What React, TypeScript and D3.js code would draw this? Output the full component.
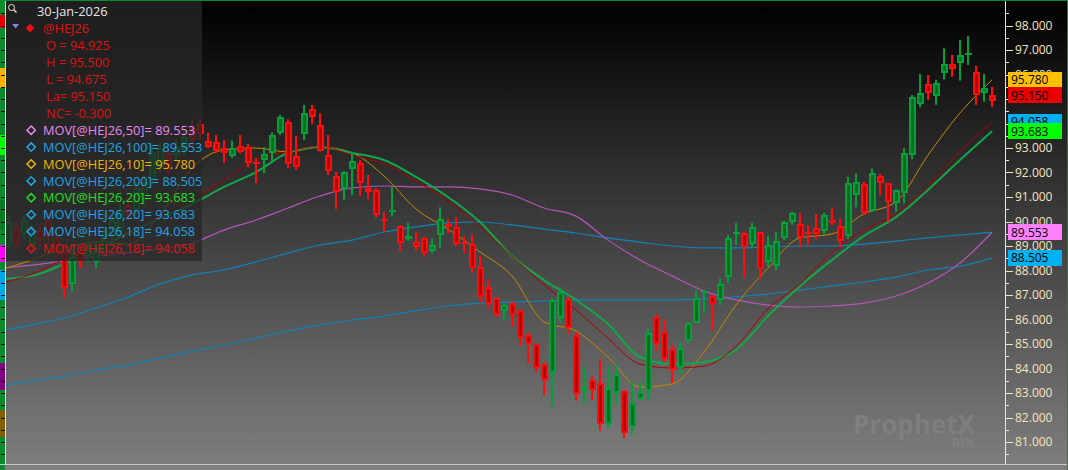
import React from "react";
import * as d3 from "d3";

const W = 1068;
const H = 470;

// ---- price data (bars 1..124) ----
const opens = [
  89.04, 89.73, 89.49, 89.0, 89.65, 90.06, 89.33, 88.76, 87.45, 88.76,
  88.59, 88.35, 88.76, 89.41, 89.57, 90.67, 90.47, 90.88, 91.69, 92.22,
  92.8, 92.71, 92.92, 93.82, 93.98, 93.3, 93.26, 92.99, 92.67, 93.08,
  93.03, 92.41, 92.51, 92.78, 93.6, 94.07, 92.67, 93.56, 94.58, 93.94,
  92.71, 91.86, 91.31, 92.13, 92.4, 91.36, 91.29, 90.11, 90.37, 89.82,
  89.27, 89.15, 89.31, 88.81, 89.45, 89.88, 89.76, 89.15, 89.08, 88.15,
  87.34, 86.87, 86.36, 86.69, 86.39, 85.37, 85.0, 84.2, 83.82, 86.05,
  86.82, 85.37, 83.09, 83.53, 83.42, 81.73, 83.01, 83.09, 81.62, 82.74,
  83.09, 86.09, 85.5, 84.78, 84.01, 85.13, 85.87, 87.09, 86.96, 86.8,
  87.75, 89.49, 89.55, 89.08, 89.57, 88.36, 88.18, 89.31, 89.99, 89.9,
  89.59, 89.72, 89.63, 90.06, 89.82, 89.41, 91.08, 91.53, 90.44, 91.86,
  91.56, 90.74, 91.18, 92.71, 94.8, 95.61, 95.12, 96.05, 96.43, 96.46,
  96.83, 96.11, 95.25, 94.925,
];
const highs = [
  90.22, 89.98, 90.31, 89.86, 89.9, 90.39, 89.57, 89.08, 88.92, 89.0,
  89.33, 89.24, 89.82, 90.31, 90.67, 90.96, 91.61, 91.86, 93.08, 93.25,
  93.0, 93.33, 93.73, 94.14, 94.22, 93.62, 93.53, 93.33, 93.3, 93.53,
  93.16, 92.58, 93.03, 93.64, 94.35, 94.17, 93.49, 94.76, 94.76, 94.42,
  93.53, 92.03, 92.06, 92.85, 92.51, 91.9, 91.36, 90.4, 91.42, 89.86,
  89.95, 89.58, 89.38, 89.31, 90.58, 90.09, 90.17, 89.41, 89.49, 88.59,
  87.64, 86.91, 86.66, 86.73, 86.42, 85.44, 85.03, 84.24, 86.87, 87.31,
  86.91, 85.5, 84.1, 83.69, 84.38, 84.1, 84.18, 83.15, 83.46, 83.46,
  85.64, 86.22, 86.01, 84.96, 85.09, 85.91, 87.2, 87.2, 87.0, 87.68,
  89.45, 89.95, 89.58, 89.95, 89.58, 89.41, 89.58, 90.03, 90.4, 90.33,
  89.86, 90.31, 90.36, 90.58, 90.13, 91.83, 91.97, 91.62, 92.17, 91.94,
  91.58, 91.31, 92.99, 95.16, 96.02, 95.98, 95.78, 97.07, 96.8, 97.41,
  97.57, 96.35, 96.02, 95.5,
];
const lows = [
  88.84, 88.92, 89.24, 88.76, 89.0, 89.08, 88.51, 86.88, 87.12, 88.1,
  88.35, 88.1, 88.51, 89.24, 89.41, 89.98, 90.31, 90.67, 91.53, 92.02,
  91.9, 92.51, 92.71, 93.12, 93.33, 92.99, 92.8, 92.4, 92.6, 92.78,
  92.21, 91.56, 91.97, 92.4, 93.53, 92.17, 92.1, 93.33, 93.97, 92.85,
  91.9, 90.5, 90.88, 91.08, 91.04, 90.91, 90.17, 89.58, 90.2, 88.81,
  89.22, 88.82, 88.56, 88.7, 88.93, 89.52, 88.97, 88.7, 87.91, 86.69,
  86.42, 86.11, 85.95, 85.73, 84.92, 84.21, 83.83, 82.92, 82.44, 85.87,
  85.41, 82.7, 82.58, 82.71, 81.46, 81.56, 82.51, 81.15, 81.33, 82.71,
  82.71, 84.73, 84.24, 83.4, 83.74, 85.05, 85.85, 86.28, 85.54, 86.59,
  87.5, 89.04, 87.72, 88.91, 87.68, 88.15, 88.02, 89.24, 89.86, 88.95,
  89.04, 89.27, 89.49, 89.86, 88.95, 89.27, 90.58, 90.27, 90.4, 91.08,
  89.99, 90.4, 90.74, 92.54, 94.66, 94.96, 94.76, 95.8, 95.91, 95.75,
  96.39, 94.76, 94.89, 94.675,
];
const closes = [
  89.98, 89.12, 90.06, 89.57, 89.24, 89.37, 88.76, 87.29, 88.59, 88.35,
  89.08, 88.84, 89.57, 90.06, 90.47, 90.27, 91.37, 91.61, 92.84, 93.0,
  92.1, 93.04, 93.45, 93.33, 93.57, 93.03, 92.89, 92.78, 92.99, 92.85,
  92.4, 92.35, 92.76, 93.53, 94.28, 92.35, 92.24, 94.44, 94.28, 92.89,
  92.07, 91.22, 92.03, 92.47, 91.56, 91.22, 90.27, 90.05, 90.46, 89.14,
  89.41, 88.96, 88.73, 89.03, 90.09, 89.78, 89.08, 89.08, 88.09, 86.93,
  86.63, 86.18, 86.59, 86.18, 85.23, 85.0, 84.01, 83.53, 86.8, 87.13,
  85.64, 82.96, 83.23, 83.12, 81.73, 83.19, 83.78, 81.38, 82.6, 83.05,
  85.44, 85.0, 84.38, 83.94, 84.83, 85.87, 86.87, 87.17, 86.63, 87.45,
  89.31, 89.58, 88.97, 89.76, 88.05, 89.04, 89.22, 89.97, 90.33, 89.31,
  89.51, 89.49, 90.27, 89.95, 89.2, 91.56, 91.62, 90.33, 91.99, 91.56,
  90.81, 91.29, 92.78, 95.09, 95.26, 95.23, 95.64, 96.43, 96.21, 96.8,
  96.87, 95.16, 95.45, 95.15,
];
const barDirections = (
  "GRGGRRRRGR" + "GGGGGRGGGG" + "RGGRRRRRGR" + "RRGGGRRGRR" + "RRGGRRRRGR" +
  "GRRGGRRRRR" + "RRGRRRRRGG" + "RRGRRGGRGG" + "GRRRGGGGRG" + "GGRGRGGGGR" +
  "RRGRRGGRGR" + "RGGGGRGGRG" + "GRGR"
).split("");

// ---- moving averages, sampled every 4 bars ----
const maIndex = [
  0, 4, 8, 12, 16, 20, 24, 28, 32, 36, 40, 44, 48, 52, 56, 60,
  64, 68, 72, 76, 80, 84, 88, 92, 96, 100, 104, 108, 112, 116, 120, 124,
];
const ma10 = [
  88.02, 88.43, 88.92, 89.16, 89.08, 90.27, 92.18, 92.92, 93.0, 92.84, 93.04, 92.8, 91.86, 90.51, 89.69, 88.76,
  87.78, 85.9, 85.53, 84.47, 83.24, 83.37, 84.67, 86.59, 88.1, 89.33, 89.49, 90.31, 90.8, 92.71, 94.43, 95.78,
];
const ma20 = [
  87.65, 87.78, 88.27, 88.84, 89.53, 90.14, 90.71, 91.41, 92.02, 92.8, 93.04, 92.8, 92.51, 91.82, 91.0, 89.98,
  88.59, 87.61, 86.8, 85.82, 84.47, 84.18, 84.27, 84.76, 86.14, 87.37, 88.43, 89.41, 90.18, 91.29, 92.51, 93.683,
];
const ma18 = [
  87.45, 87.86, 88.47, 89.0, 89.61, 90.22, 90.88, 91.69, 92.55, 92.84, 93.08, 92.71, 92.35, 91.65, 90.84, 89.78,
  88.59, 87.41, 86.39, 85.24, 84.18, 84.02, 84.1, 84.9, 86.45, 87.45, 88.76, 89.65, 90.31, 91.45, 92.84, 94.058,
];
const ma50 = [
  88.1, 88.22, 88.39, 88.59, 88.71, 88.88, 89.12, 89.65, 90.06, 90.55, 91.04, 91.37, 91.45, 91.41, 91.41, 91.33,
  91.08, 90.55, 90.22, 89.24, 88.43, 87.78, 87.16, 86.8, 86.59, 86.51, 86.55, 86.67, 86.96, 87.49, 88.31, 89.553,
];
const ma100 = [
  85.53, 85.78, 86.06, 86.47, 86.92, 87.45, 87.82, 88.02, 88.35, 88.71, 89.04, 89.24, 89.57, 89.78, 89.94, 89.98,
  89.86, 89.69, 89.53, 89.33, 89.16, 89.0, 88.92, 88.92, 88.96, 89.0, 89.0, 89.08, 89.2, 89.33, 89.45, 89.553,
];
const ma200 = [
  83.29, 83.49, 83.69, 83.94, 84.14, 84.43, 84.71, 84.96, 85.24, 85.53, 85.78, 85.98, 86.14, 86.35, 86.55, 86.67,
  86.71, 86.76, 86.8, 86.8, 86.8, 86.8, 86.84, 86.92, 87.04, 87.2, 87.37, 87.53, 87.73, 88.02, 88.18, 88.505,
];

// ---- axis / legend text ----
const axisTicks = [81, 82, 83, 84, 85, 86, 87, 88, 89, 90, 91, 92, 93, 94, 95, 96, 97, 98];
const minorTicks = [80.5, 81.5, 82.5, 83.5, 84.5, 85.5, 86.5, 87.5, 88.5, 89.5, 90.5, 91.5, 92.5, 93.5, 94.5, 95.5, 96.5, 97.5, 98.5];
const lastValues = [95.78, 95.15, 94.058, 93.683, 89.553, 88.505];
const lastValueColors = ["#ffc000", "#e80000", "#00b0f0", "#00ff00", "#ff80ff", "#00b0f0"];
const headerDate = "30-Jan-2026";
const symbol = "@HEJ26";
const quoteLines = ["O = 94.925", "H = 95.500", "L = 94.675", "La= 95.150", "NC= -0.300"];
const studyLabels = [
  "MOV[@HEJ26,50]= 89.553",
  "MOV[@HEJ26,100]= 89.553",
  "MOV[@HEJ26,10]= 95.780",
  "MOV[@HEJ26,200]= 88.505",
  "MOV[@HEJ26,20]= 93.683",
  "MOV[@HEJ26,20]= 93.683",
  "MOV[@HEJ26,18]= 94.058",
  "MOV[@HEJ26,18]= 94.058",
];
const studyColors = ["#e888f0", "#1ea4e6", "#f2b400", "#1ea4e6", "#22e022", "#1ea4e6", "#1ea4e6", "#e01414"];
const leftStripBlocks = [
  { y0: 15, y1: 28, c: "#e00000" },
  { y0: 68, y1: 88, c: "#ffb000" },
  { y0: 135, y1: 155, c: "#00ff00" },
  { y0: 200, y1: 230, c: "#0b7a25" },
  { y0: 245, y1: 262, c: "#ff00ff" },
  { y0: 270, y1: 300, c: "#00a8e8" },
  { y0: 363, y1: 390, c: "#800080" },
  { y0: 410, y1: 437, c: "#806000" },
];

const FONT = "'Open Sans', 'Noto Sans', sans-serif";

export default function App() {
  const y = d3.scaleLinear().domain([81, 98]).range([442, 25.5]);
  const x = d3.scaleLinear().domain([0, 124]).range([0, 992]);

  const mkLine = (vals: number[]) =>
    d3
      .line<number>()
      .x((_, i) => x(maIndex[i]))
      .y((v) => y(v))
      .curve(d3.curveMonotoneX)(vals) || "";

  const candles = opens.map((o, i) => {
    const c = closes[i];
    const h = highs[i];
    const l = lows[i];
    const cx = Math.round(x(i + 1));
    const up = barDirections[i] === "G";
    const outer = up ? "#00a03a" : "#ff0d0d";
    const inner = up ? "#006c22" : "#b00000";
    let bt = Math.round(y(Math.max(o, c)));
    let bb = Math.round(y(Math.min(o, c)));
    if (bb - bt < 2) {
      const m = (bt + bb) / 2;
      bt = Math.round(m - 1);
      bb = bt + 2;
    }
    return (
      <g key={i}>
        <rect x={cx - 1} y={y(h)} width={2} height={y(l) - y(h)} fill={outer} />
        <rect x={cx - 3} y={bt} width={7} height={bb - bt} fill={outer} />
        {bb - bt > 4 && <rect x={cx - 1} y={bt + 2} width={3} height={bb - bt - 4} fill={inner} />}
      </g>
    );
  });

  const rowY = (k: number) => 45.7 + k * 16.9;

  return (
    <svg
      width={W}
      height={H}
      style={{ position: "absolute", left: 0, top: 0, display: "block" }}
      xmlns="http://www.w3.org/2000/svg"
    >
      <defs>
        <linearGradient id="bg" x1="0" y1="0" x2="0" y2="1">
          <stop offset="0" stopColor="#000000" />
          <stop offset="1" stopColor="#7f7f7f" />
        </linearGradient>
        <clipPath id="plot">
          <rect x={6} y={0} width={999} height={463} />
        </clipPath>
      </defs>
      <rect x={0} y={0} width={W} height={H} fill="url(#bg)" />

      {/* watermark */}
      <g>
        <text x={853} y={434} fontFamily={FONT} fontWeight={700} fontSize={26} fill="#7f7f7f">
          ProphetX
        </text>
        <text x={908} y={445} fontFamily={FONT} fontSize={8} fill="#7a7a7a">
          powered by
        </text>
        <text x={952} y={446} fontFamily={FONT} fontWeight={700} fontSize={10} fill="#828282">
          DTN
        </text>
      </g>

      <g clipPath="url(#plot)">
        <path d={mkLine(ma200)} fill="none" stroke="#0f82bd" strokeWidth={1.2} />
        <path d={mkLine(ma100)} fill="none" stroke="#0f82bd" strokeWidth={1.2} />
        <path d={mkLine(ma50)} fill="none" stroke="#b455b8" strokeWidth={1.2} />
        <path d={mkLine(ma10)} fill="none" stroke="#c28a00" strokeWidth={1} />
        <path d={mkLine(ma20)} fill="none" stroke="#12a838" strokeWidth={2} />
        <path d={mkLine(ma20)} fill="none" stroke="#1c9ccc" strokeWidth={0.9} strokeDasharray="1,2" />
        <path d={mkLine(ma18)} fill="none" stroke="#b00000" strokeWidth={1} />
        {candles}
      </g>

      {/* legend panel */}
      <rect x={6} y={0} width={196} height={261} fill="rgba(40,40,40,0.76)" />
      <circle cx={11.5} cy={7.5} r={3} fill="none" stroke="#f0e6c8" strokeWidth={1} />
      <line x1={13.8} y1={9.8} x2={16.5} y2={12.5} stroke="#f0e6c8" strokeWidth={1.4} />
      <text x={37} y={16} fontFamily={FONT} fontSize={12.8} fill="#e8e8e8">
        {headerDate}
      </text>
      <path d="M12.3,24 L19,24 L15.6,28.6 Z" fill="#8484ff" />
      <path d="M30,23.8 L34.5,28.3 L30,32.8 L25.5,28.3 Z" fill="#e01414" />
      <text x={43} y={33.2} fontFamily={FONT} fontSize={12.8} fill="#e01414">
        {symbol}
      </text>
      {quoteLines.map((t, k) => (
        <text key={t} x={46} y={rowY(k) + 4.6} fontFamily={FONT} fontSize={12.8} fill="#dc1212">
          {t}
        </text>
      ))}
      {studyLabels.map((t, k) => {
        const cy = rowY(5 + k);
        return (
          <g key={k}>
            <path
              d={`M31.2,${cy - 4.2} L35.4,${cy} L31.2,${cy + 4.2} L27,${cy} Z`}
              fill="none"
              stroke={studyColors[k]}
              strokeWidth={1.5}
            />
            <text x={43} y={cy + 4.6} fontFamily={FONT} fontSize={12.8} fill={studyColors[k]}>
              {t}
            </text>
          </g>
        );
      })}

      {/* left strip */}
      <rect x={0} y={0} width={5} height={H} fill="#0e8a2e" />
      {leftStripBlocks.map((b, k) => (
        <rect key={k} x={0} y={b.y0} width={5} height={b.y1 - b.y0} fill={b.c} />
      ))}
      {axisTicks.concat(minorTicks).map((v) => (
        <line key={"l" + v} x1={1} x2={5} y1={Math.round(y(v)) + 0.5} y2={Math.round(y(v)) + 0.5} stroke="#0a0a0a" strokeWidth={1} />
      ))}
      <line x1={5.5} x2={5.5} y1={0} y2={464} stroke="#e8e0c8" strokeWidth={1} />

      {/* right axis */}
      <line x1={1005.5} x2={1005.5} y1={0} y2={464} stroke="#f0e6c8" strokeWidth={1} />
      {minorTicks.map((v) => (
        <line key={"m" + v} x1={1006} x2={1009} y1={Math.round(y(v)) + 0.5} y2={Math.round(y(v)) + 0.5} stroke="#f0e6c8" />
      ))}
      {axisTicks.map((v) => (
        <g key={"t" + v}>
          <line x1={1006} x2={1013} y1={Math.round(y(v)) + 0.5} y2={Math.round(y(v)) + 0.5} stroke="#f0e6c8" />
          <text x={1015} y={y(v)} dy="0.36em" fontFamily={FONT} fontSize={12} fill="#f5e4c0">
            {d3.format(".3f")(v)}
          </text>
        </g>
      ))}
      {lastValues.map((v, k) => (
        <g key={"lv" + k}>
          <rect x={1008} y={Math.round(y(v)) - 8} width={54} height={16} fill={lastValueColors[k]} />
          <text x={1011} y={y(v)} dy="0.36em" fontFamily={FONT} fontSize={12} fill="#000">
            {d3.format(".3f")(v)}
          </text>
        </g>
      ))}

      {/* frame */}
      <line x1={0} x2={W} y1={464.5} y2={464.5} stroke="#c8c8c8" strokeWidth={1} />
      <line x1={1067.5} x2={1067.5} y1={0} y2={H} stroke="#0e8a2e" strokeWidth={1} />
      <line x1={0} x2={W} y1={0.5} y2={0.5} stroke="#0e8a2e" strokeWidth={1} />
    </svg>
  );
}
